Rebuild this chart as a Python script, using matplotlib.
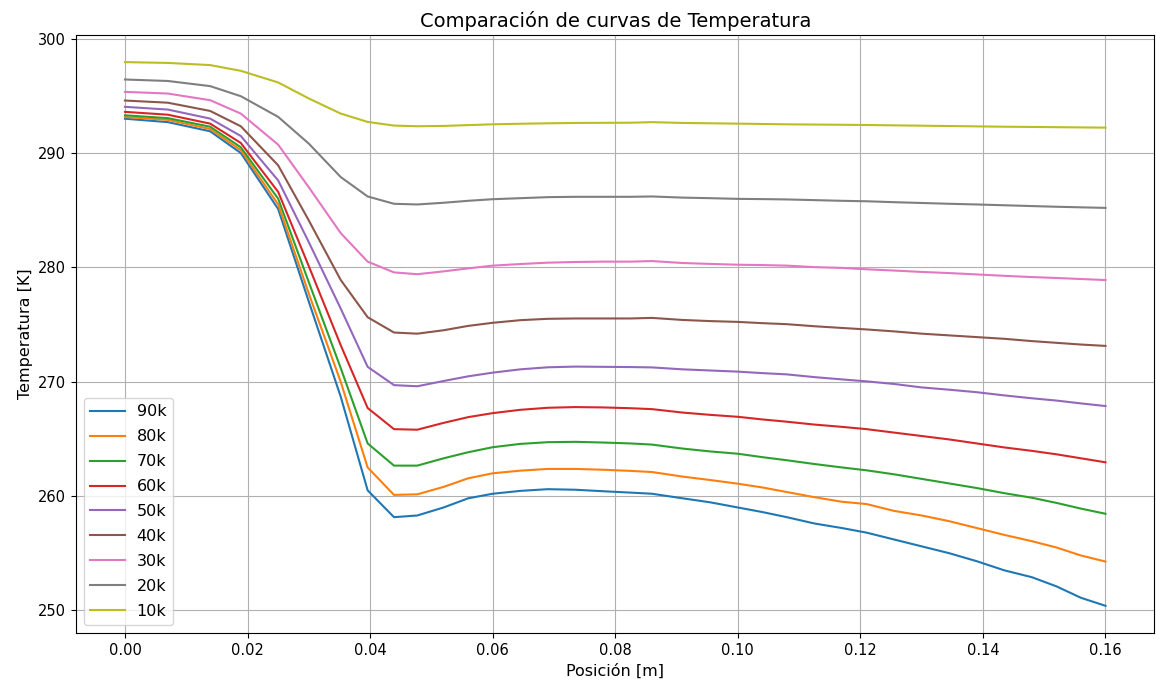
import matplotlib
matplotlib.use("Agg")
import matplotlib.pyplot as plt

# posiciones de los nodos [m]
posicion = [0.0, 0.007, 0.0139, 0.0189, 0.025, 0.030, 0.0352, 0.0396, 0.0439, 0.0477,
            0.052, 0.056, 0.060, 0.0645, 0.069, 0.0735, 0.078, 0.0825, 0.086, 0.091,
            0.0955, 0.100, 0.104, 0.108, 0.1125, 0.117, 0.121, 0.1255, 0.130, 0.1345,
            0.139, 0.1435, 0.148, 0.152, 0.156, 0.160]

# temperaturas [K] para cada caso
t_90k = [293.0, 292.7, 291.9, 290.0, 285.1, 277.0, 268.7, 260.5, 258.15, 258.3,
         259.0, 259.8, 260.2, 260.45, 260.6, 260.55, 260.42, 260.3, 260.2, 259.8,
         259.45, 259.0, 258.6, 258.15, 257.6, 257.2, 256.8, 256.2, 255.6, 255.0,
         254.3, 253.5, 252.9, 252.1, 251.1, 250.4]
t_80k = [293.15, 292.9, 292.1, 290.25, 285.5, 277.7, 270.0, 262.5, 260.1, 260.15,
         260.8, 261.55, 261.99, 262.22, 262.37, 262.37, 262.3, 262.2, 262.1, 261.7,
         261.4, 261.08, 260.75, 260.35, 259.9, 259.5, 259.3, 258.7, 258.3, 257.8,
         257.2, 256.6, 256.05, 255.5, 254.8, 254.27]
t_70k = [293.3, 293.05, 292.3, 290.5, 286.0, 278.7, 271.2, 264.6, 262.66, 262.66,
         263.3, 263.83, 264.27, 264.56, 264.71, 264.74, 264.68, 264.6, 264.5, 264.15,
         263.9, 263.7, 263.4, 263.13, 262.8, 262.5, 262.25, 261.9, 261.5, 261.1,
         260.7, 260.25, 259.85, 259.4, 258.9, 258.45]
t_60k = [293.6, 293.35, 292.57, 290.88, 286.6, 280.1, 273.2, 267.7, 265.85, 265.8,
         266.4, 266.9, 267.25, 267.54, 267.72, 267.78, 267.75, 267.68, 267.6, 267.3,
         267.1, 266.93, 266.7, 266.5, 266.25, 266.05, 265.85, 265.55, 265.25, 264.95,
         264.6, 264.25, 263.95, 263.65, 263.3, 262.95]
t_50k = [294.04, 293.8, 293.01, 291.49, 287.6, 282.2, 276.4, 271.3, 269.7, 269.6,
         270.06, 270.47, 270.79, 271.08, 271.26, 271.32, 271.3, 271.28, 271.25, 271.08,
         270.98, 270.88, 270.75, 270.64, 270.4, 270.2, 270.03, 269.8, 269.5, 269.3,
         269.08, 268.8, 268.55, 268.35, 268.1, 267.87]
t_40k = [294.59, 294.4, 293.68, 292.34, 288.92, 284.1, 278.9, 275.64, 274.3, 274.2,
         274.5, 274.88, 275.15, 275.38, 275.5, 275.53, 275.53, 275.53, 275.58, 275.4,
         275.3, 275.23, 275.12, 275.03, 274.85, 274.7, 274.57, 274.4, 274.2, 274.05,
         273.9, 273.75, 273.55, 273.4, 273.25, 273.13]
t_30k = [295.35, 295.2, 294.62, 293.45, 290.73, 287.0, 283.0, 280.5, 279.56, 279.4,
         279.65, 279.91, 280.15, 280.29, 280.41, 280.47, 280.5, 280.5, 280.55, 280.38,
         280.3, 280.23, 280.2, 280.15, 280.02, 279.95, 279.83, 279.72, 279.6, 279.5,
         279.38, 279.26, 279.15, 279.07, 278.98, 278.89]
t_20k = [296.43, 296.3, 295.85, 294.97, 293.16, 290.82, 287.9, 286.2, 285.56, 285.5,
         285.65, 285.82, 285.96, 286.05, 286.14, 286.17, 286.17, 286.17, 286.2, 286.1,
         286.05, 285.99, 285.97, 285.94, 285.88, 285.82, 285.78, 285.7, 285.63, 285.56,
         285.5, 285.43, 285.36, 285.3, 285.25, 285.2]
t_10k = [297.95, 297.88, 297.69, 297.19, 296.17, 294.77, 293.45, 292.72, 292.4, 292.34,
         292.37, 292.44, 292.51, 292.56, 292.6, 292.63, 292.64, 292.65, 292.7, 292.63,
         292.6, 292.57, 292.54, 292.51, 292.49, 292.47, 292.45, 292.42, 292.39, 292.36,
         292.33, 292.3, 292.28, 292.26, 292.24, 292.22]

etiquetas = ["90k", "80k", "70k", "60k", "50k", "40k", "30k", "20k", "10k"]
curvas = [t_90k, t_80k, t_70k, t_60k, t_50k, t_40k, t_30k, t_20k, t_10k]

plt.rcParams["font.size"] = 10.5

fig = plt.figure(figsize=(11.56, 6.89), dpi=100)
ax = fig.add_axes([0.0657, 0.0813, 0.933, 0.868])

for etiqueta, temp in zip(etiquetas, curvas):
    ax.plot(posicion, temp, label=etiqueta)

ax.set_xlabel("Posición [m]", fontsize=11.5)
ax.set_ylabel("Temperatura [K]", fontsize=11.5)
ax.set_title("Comparación de curvas de Temperatura", fontsize=14)
ax.legend(loc="lower left", fontsize=11.5, handlelength=2.2, handletextpad=0.7,
          labelspacing=0.62)
ax.grid(True)

fig.savefig("out.png", dpi=100)
